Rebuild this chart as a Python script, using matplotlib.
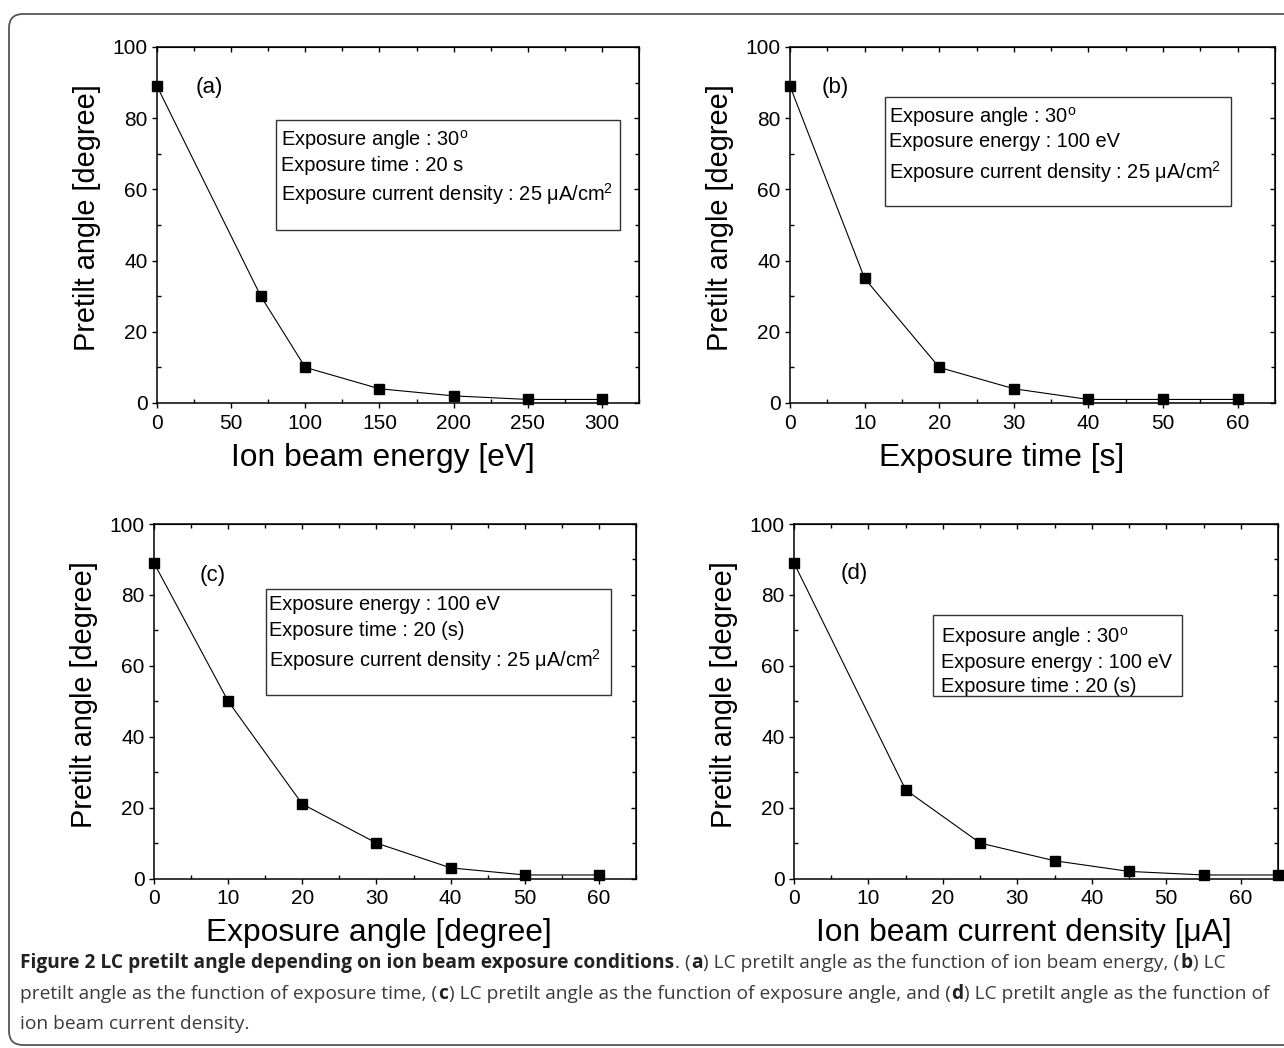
import matplotlib
matplotlib.use("Agg")
import matplotlib.pyplot as plt
from matplotlib.ticker import MultipleLocator
from matplotlib.patches import Rectangle, FancyBboxPatch
from matplotlib.transforms import IdentityTransform
from matplotlib import font_manager

# ---------------- data ----------------
energy_x = [0, 70, 100, 150, 200, 250, 300]
energy_y = [89, 30, 10, 4, 2, 1, 1]

time_x = [0, 10, 20, 30, 40, 50, 60]
time_y = [89, 35, 10, 4, 1, 1, 1]

angle_x = [0, 10, 20, 30, 40, 50, 60]
angle_y = [89, 50, 21, 10, 3, 1, 1]

current_x = [0, 15, 25, 35, 45, 55, 65]
current_y = [89, 25, 10, 5, 2, 1, 1]

xlabels = ["Ion beam energy [eV]", "Exposure time [s]",
           "Exposure angle [degree]", "Ion beam current density [\u03bcA]"]
ylabel = "Pretilt angle [degree]"
panel_tags = ["(a)", "(b)", "(c)", "(d)"]
box_lines = [
    ["Exposure angle : 30$^\\mathregular{o}$", "Exposure time : 20 s",
     "Exposure current density : 25 \u03bcA/cm$^\\mathregular{2}$"],
    ["Exposure angle : 30$^\\mathregular{o}$", "Exposure energy : 100 eV",
     "Exposure current density : 25 \u03bcA/cm$^\\mathregular{2}$"],
    ["Exposure energy : 100 eV", "Exposure time : 20 (s)",
     "Exposure current density : 25 \u03bcA/cm$^\\mathregular{2}$"],
    ["Exposure angle : 30$^\\mathregular{o}$", "Exposure energy : 100 eV",
     "Exposure time : 20 (s)"],
]
caption_lines = [
    [("Figure 2 LC pretilt angle depending on ion beam exposure conditions", True),
     (". (", False), ("a", True),
     (") LC pretilt angle as the function of ion beam energy, (", False),
     ("b", True), (") LC", False)],
    [("pretilt angle as the function of exposure time, (", False), ("c", True),
     (") LC pretilt angle as the function of exposure angle, and (", False),
     ("d", True), (") LC pretilt angle as the function of", False)],
    [("ion beam current density.", False)],
]

# ---------------- style ----------------
plt.rcParams['font.family'] = ['Liberation Sans', 'DejaVu Sans']
plt.rcParams['mathtext.fontset'] = 'custom'
plt.rcParams['mathtext.rm'] = 'Liberation Sans'

W, H = 1284, 1048
fig = plt.figure(figsize=(W / 100, H / 100), dpi=100)

# outer rounded frame (pixel coordinates)
frame = FancyBboxPatch((9, 3), 1320, 1031, boxstyle="round,pad=0,rounding_size=14",
                       transform=IdentityTransform(), fill=False,
                       edgecolor='#555555', linewidth=1.3)
fig.patches.append(frame)

# axes positions in pixels: left, right, top, bottom
pos_px = [(157, 639, 47, 403), (790, 1275, 47, 403),
          (154, 636, 524, 878.5), (794, 1278, 524, 878.5)]
xlims = [325, 65, 65, 65]
xmajor = [50, 10, 10, 10]
series = [(energy_x, energy_y), (time_x, time_y),
          (angle_x, angle_y), (current_x, current_y)]
# box (x0, x1, y0, y1) in axes fraction, text x, line centre y positions, tag position
boxes = [(0.247, 0.961, 0.486, 0.795), (0.196, 0.909, 0.553, 0.860),
         (0.232, 0.948, 0.518, 0.817), (0.287, 0.802, 0.515, 0.743)]
text_x = [0.257, 0.204, 0.239, 0.304]
text_y = [(0.744, 0.674, 0.590), (0.809, 0.739, 0.652),
          (0.777, 0.704, 0.619), (0.687, 0.616, 0.548)]
tag_pos = [(0.081, 0.885), (0.066, 0.885), (0.095, 0.856), (0.097, 0.859)]
xlabel_x = [0.469, 0.437, 0.467, 0.475]
baseline_shift = 0.021

for i in range(4):
    l, r, t, b = pos_px[i]
    ax = fig.add_axes([l / W, 1 - b / H, (r - l) / W, (b - t) / H])
    xs, ys = series[i]
    ax.plot(xs, ys, color='black', linewidth=0.8, marker='s', markersize=6.5,
            markerfacecolor='black', markeredgecolor='black', clip_on=False, zorder=5)
    ax.set_xlim(0, xlims[i])
    ax.set_ylim(0, 100)
    ax.xaxis.set_major_locator(MultipleLocator(xmajor[i]))
    ax.xaxis.set_minor_locator(MultipleLocator(xmajor[i] / 2))
    ax.yaxis.set_major_locator(MultipleLocator(20))
    ax.yaxis.set_minor_locator(MultipleLocator(10))
    for sp in ax.spines.values():
        sp.set_linewidth(1.1)
    ax.tick_params(which='major', direction='out', length=3.8, width=1.0,
                   labelsize=15, pad=3)
    ax.tick_params(axis='x', which='major', pad=4)
    ax.tick_params(which='minor', direction='in', length=3, width=1.0)
    # top / right ticks pointing inward
    secx = ax.secondary_xaxis('top')
    secx.xaxis.set_major_locator(MultipleLocator(xmajor[i]))
    secx.xaxis.set_minor_locator(MultipleLocator(xmajor[i] / 2))
    secx.tick_params(which='both', direction='in', labeltop=False, width=1.0)
    secx.tick_params(which='major', length=3.8)
    secx.tick_params(which='minor', length=3)
    secy = ax.secondary_yaxis('right')
    secy.yaxis.set_major_locator(MultipleLocator(20))
    secy.yaxis.set_minor_locator(MultipleLocator(10))
    secy.tick_params(which='both', direction='in', labelright=False, width=1.0)
    secy.tick_params(which='major', length=3.8)
    secy.tick_params(which='minor', length=3)

    ax.set_xlabel(xlabels[i], fontsize=22.9, labelpad=7, x=xlabel_x[i],
                  ha='center')
    ax.set_ylabel(ylabel, fontsize=20.8, labelpad=8, y=0.52, ha='center')

    x0, x1, y0, y1 = boxes[i]
    ax.add_patch(Rectangle((x0, y0), x1 - x0, y1 - y0, transform=ax.transAxes,
                           fill=False, edgecolor='#333333', linewidth=1.0, zorder=4))
    for yy, s in zip(text_y[i], box_lines[i]):
        ax.text(text_x[i], yy - baseline_shift, s, transform=ax.transAxes,
                fontsize=14.4, ha='left', va='baseline', zorder=6)
    ax.text(tag_pos[i][0], tag_pos[i][1], panel_tags[i], transform=ax.transAxes,
            fontsize=16, ha='left', va='center')

# ---------------- caption ----------------
def pick_font():
    for name in ['Liberation Sans Narrow', 'Open Sans', 'Lato', 'Roboto']:
        try:
            font_manager.findfont(font_manager.FontProperties(family=name),
                                  fallback_to_default=False)
            return name
        except Exception:
            continue
    return 'DejaVu Sans'

cap_font = pick_font()
renderer = fig.canvas.get_renderer()


def draw_line(runs, x_px, y_px, size, draw=True):
    x = x_px
    objs = []
    for s, bold in runs:
        t = fig.text(x / W, 1 - y_px / H, s, fontsize=size, family=cap_font,
                     fontweight='bold' if bold else 'normal',
                     color='#222222' if bold else '#3a3a3a',
                     ha='left', va='center')
        w = t.get_window_extent(renderer).width
        x += w + (1.0 if s.endswith('(') or s.startswith(')') else 0.5)
        objs.append(t)
    if not draw:
        for t in objs:
            t.remove()
    return x - x_px

# fit size so that the caption lines span the measured widths
targets = [1276 - 20, 1266 - 20]
sizes = []
for runs, tw in zip(caption_lines[:2], targets):
    wl = draw_line(runs, 20, 963, 12.0, draw=False)
    sizes.append(12.0 * tw / wl)
size = min(sizes)

cap_y = [963, 994, 1024]
for runs, yy in zip(caption_lines, cap_y):
    draw_line(runs, 20, yy, size)

fig.savefig("out.png", dpi=100)
